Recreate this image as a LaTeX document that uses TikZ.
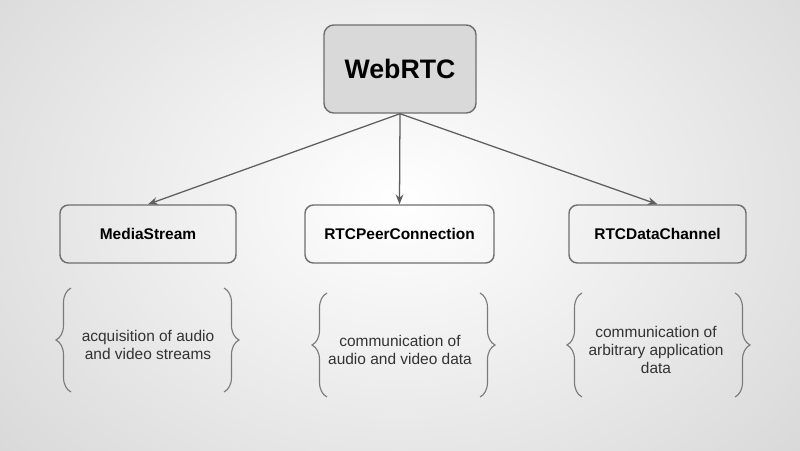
\documentclass[tikz,border=0pt]{standalone}
\usepackage{fontspec}
\setmainfont{Liberation Sans}
\usetikzlibrary{arrows.meta,decorations.pathreplacing}
\definecolor{boxline}{HTML}{6E6E6E}
\definecolor{topfill}{HTML}{D9D9D9}
\definecolor{arrowgray}{HTML}{5E5E5E}
\definecolor{bracegray}{HTML}{7A7A7A}
\definecolor{desctext}{HTML}{333333}

\begin{document}
\begin{tikzpicture}[x=0.025cm,y=0.025cm,
  topbox/.style={draw=boxline,fill=topfill,line width=1pt,rounded corners=7pt,
    minimum width=3.8cm,minimum height=2.2cm,font=\fontsize{19}{22}\selectfont\bfseries},
  partbox/.style={draw=boxline,line width=1pt,rounded corners=6pt,
    minimum height=1.45cm,font=\fontsize{11}{13}\selectfont\bfseries},
  desc/.style={align=center,font=\fontsize{11}{13}\selectfont,text=desctext},
  link/.style={draw=arrowgray,line width=0.9pt,-{Stealth[length=7pt,width=5.5pt]}},
  curly/.style={draw=bracegray,line width=0.8pt,decorate,decoration={brace,amplitude=0.375cm}}]

% Background with soft gradient
\useasboundingbox (0,0) rectangle (800,450);
\begin{scope}
\clip (0,0) rectangle (800,450);
\shade[inner color=white,outer color=black!27] (400,250) ellipse (950 and 700);
\end{scope}

% Top box
\node[topbox] (webrtc) at (400,381) {WebRTC};

% The three parts
\node[partbox,minimum width=4.4cm] (media) at (148,216) {MediaStream};
\node[partbox,minimum width=4.725cm] (peer) at (399.5,216) {RTCPeerConnection};
\node[partbox,minimum width=4.425cm] (data) at (657.5,216) {RTCDataChannel};

% Arrows from the top box
\foreach \n in {media,peer,data}{
\draw[link] (webrtc.south) -- (\n.north);
}

% Descriptions
\node[desc] (mediatxt) at (148,105) {acquisition of audio\\and video streams};
\node[desc] (peertxt) at (400,100) {communication of\\audio and video data};
\node[desc] (datatxt) at (656,100) {communication of\\arbitrary application\\data};

% Braces: left one goes up, right one goes down
\foreach \l/\r/\b/\t in {71/224/58/162, 327/480/53/157, 582/735/53/157}{
\draw[curly] (\l,\b) -- (\l,\t);
\draw[curly] (\r,\t) -- (\r,\b);
}
\end{tikzpicture}
\end{document}
